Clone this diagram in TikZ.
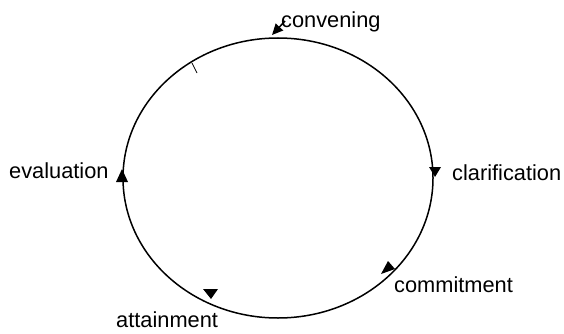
\documentclass[tikz,border=0pt]{standalone}
\usepackage{fontspec}
\setmainfont{Liberation Sans}
\usetikzlibrary{shapes.geometric,arrows.meta}
\begin{document}
\begin{tikzpicture}[x=1pt,y=-1pt,
  lbl/.style={anchor=base west, inner sep=0pt, font=\fontsize{21.8}{24}\selectfont},
  head/.style={fill=black}]
\useasboundingbox (0,0) rectangle (564,334);
\node[ellipse, draw, line width=1.5pt, minimum width=310pt, minimum height=280pt, inner sep=0pt] (ring) at (278,178) {};
\node[lbl] (conv) at (281,28) {convening};
\node[lbl] (clar) at (452,180) {clarification};
\node[lbl] (comm) at (394,292) {commitment};
\node[lbl] (att) at (116,327) {attainment};
\node[lbl] (eval) at (9,178) {evaluation};
% convening arrow
\coordinate (cs) at (285,21);
\coordinate (ce) at (272,35);
\draw[line width=1.5pt, -{Triangle[length=11pt,width=10pt]}] (cs) -- (ce);
% arrowheads
\fill[head] (435,177) -- (429,167) -- (441,167) -- cycle;
\fill[head] (122,169) -- (116,182) -- (128,182) -- cycle;
\fill[head] (388,261) -- (381,274) -- (395,269) -- cycle;
\fill[head] (211,299) -- (203,289) -- (218,289) -- cycle;
% tick
\coordinate (t1) at (192,63);
\coordinate (t2) at (197,73);
\draw[line width=0.8pt] (t1) -- (t2);
\end{tikzpicture}
\end{document}
